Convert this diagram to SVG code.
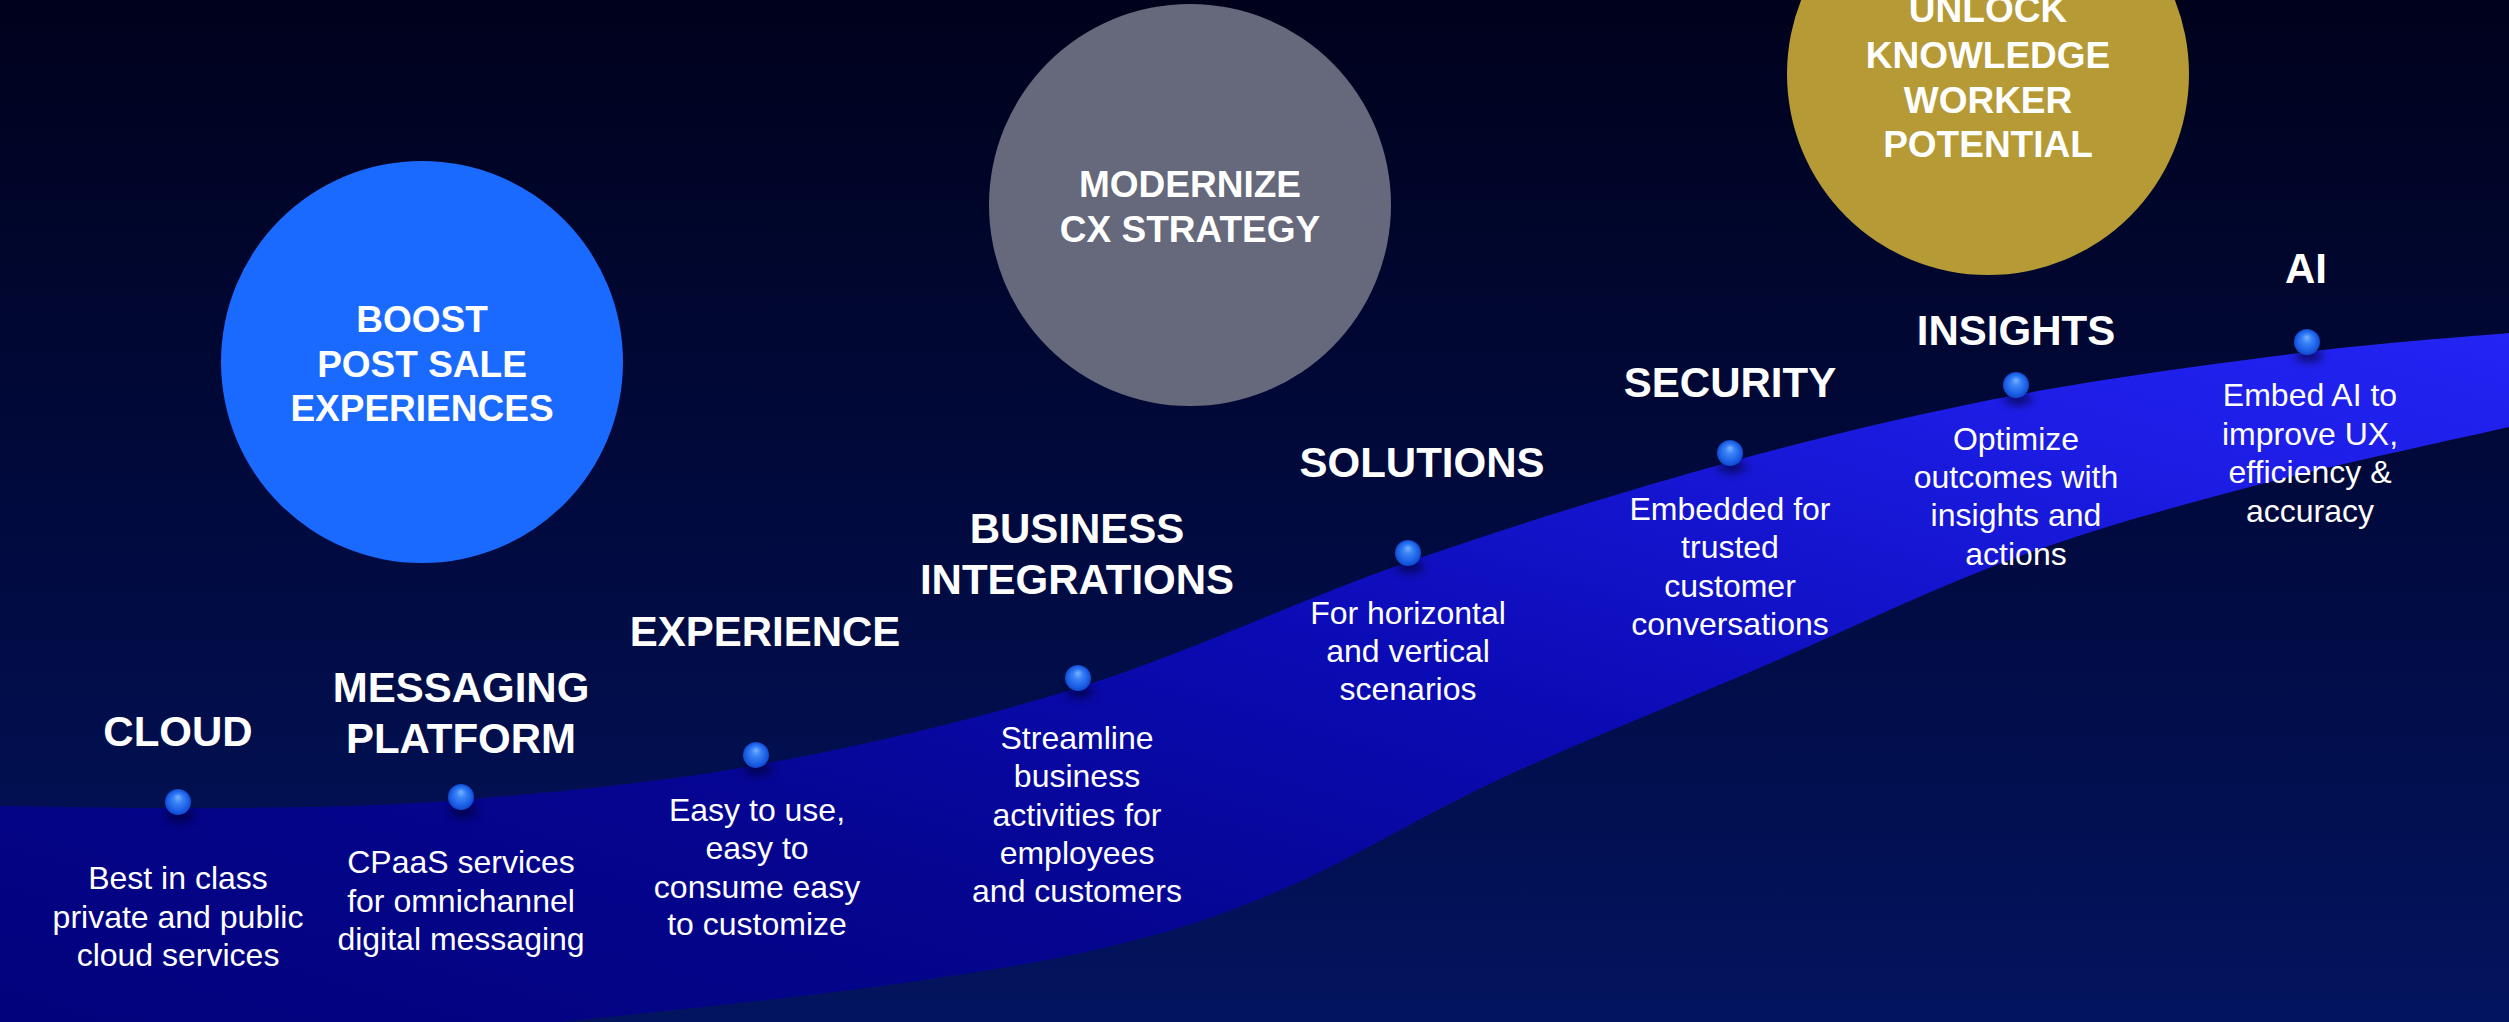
<svg xmlns="http://www.w3.org/2000/svg" width="2509" height="1022" viewBox="0 0 2509 1022">
<defs>
<linearGradient id="bg" x1="0" y1="0" x2="0" y2="1">
<stop offset="0" stop-color="#00021c"/>
<stop offset="0.5" stop-color="#010a3e"/>
<stop offset="1" stop-color="#03145f"/>
</linearGradient>
<linearGradient id="band" x1="0" y1="1" x2="1" y2="0">
<stop offset="0" stop-color="#02027a"/>
<stop offset="0.3" stop-color="#05058f"/>
<stop offset="0.55" stop-color="#0b0bb5"/>
<stop offset="0.85" stop-color="#1d1de6"/>
<stop offset="1" stop-color="#2424f4"/>
</linearGradient>
<radialGradient id="ball" cx="0.5" cy="0.5" r="0.5" fx="0.5" fy="0.3">
<stop offset="0" stop-color="#7ab4ff"/>
<stop offset="0.35" stop-color="#3a84f6"/>
<stop offset="0.8" stop-color="#1a5ee6"/>
<stop offset="1" stop-color="#1248c8"/>
</radialGradient>
<filter id="blur" x="-1" y="-1" width="3" height="3"><feGaussianBlur stdDeviation="4"/></filter>
<g id="dot">
<ellipse cx="2" cy="14" rx="14" ry="6" fill="#000020" opacity="0.6" filter="url(#blur)"/>
<circle cx="0" cy="0" r="13" fill="url(#ball)"/>
</g>
</defs>
<style>
.t{font-family:"Liberation Sans",Arial,sans-serif;font-weight:bold;font-size:42px;fill:#ffffff;text-anchor:middle}
.d{font-family:"Liberation Sans",Arial,sans-serif;font-size:32px;fill:#ffffff;text-anchor:middle}
.c{font-family:"Liberation Sans",Arial,sans-serif;font-weight:bold;font-size:37px;fill:#ffffff;text-anchor:middle}
</style>
<rect x="0" y="0" width="2509" height="1022" fill="url(#bg)"/>
<path id="wave" fill="url(#band)" d="M-10,806 L0,806 C38,806.3 153.3,809 230,808 C306.7,807 372.2,807.2 460,800 C547.8,792.8 654.2,783.7 757,765 C859.8,746.3 968.5,721.8 1077,688 C1185.5,654.2 1299.2,599.7 1408,562 C1516.8,524.3 1628.7,489.8 1730,462 C1831.3,434.2 1919.8,413.3 2016,395 C2112.2,376.7 2224.8,362.3 2307,352 C2389.2,341.7 2475.3,336.2 2509,333 L2520,332 L2520,425 L2509,427 C2465.8,437 2332.3,465.2 2250,487 C2167.7,508.8 2097.2,527.7 2015,558 C1932.8,588.3 1842.8,632.2 1757,669 C1671.2,705.8 1577.8,742.8 1500,779 C1422.2,815.2 1353.3,858.5 1290,886 C1226.7,913.5 1185.7,927.7 1120,944 C1054.3,960.3 989.3,971 896,984 C802.7,997 659.3,1011.8 560,1022 C460.7,1032.2 343.3,1041.2 300,1045 L-10,1060 Z"/>
<g id="goal-boost">
<circle cx="422" cy="362" r="201" fill="#1b6aff"/>
<text class="c" x="422" y="332">BOOST</text>
<text class="c" x="422" y="377">POST SALE</text>
<text class="c" x="422" y="421">EXPERIENCES</text>
</g>
<g id="goal-modernize">
<circle cx="1190" cy="205" r="201" fill="#66687b"/>
<text class="c" x="1190" y="197">MODERNIZE</text>
<text class="c" x="1190" y="242">CX STRATEGY</text>
</g>
<g id="goal-unlock">
<circle cx="1988" cy="74" r="201" fill="#b59a35"/>
<text class="c" x="1988" y="22">UNLOCK</text>
<text class="c" x="1988" y="68">KNOWLEDGE</text>
<text class="c" x="1988" y="113">WORKER</text>
<text class="c" x="1988" y="157">POTENTIAL</text>
</g>
<g id="connectors"></g>
<g id="cloud">
<use href="#dot" x="178" y="802"/>
<text class="t" x="178" y="746">CLOUD</text>
<text class="d" x="178" y="889">Best in class</text>
<text class="d" x="178" y="928">private and public</text>
<text class="d" x="178" y="966">cloud services</text>
</g>
<g id="messaging">
<use href="#dot" x="461" y="797"/>
<text class="t" x="461" y="702">MESSAGING</text>
<text class="t" x="461" y="753">PLATFORM</text>
<text class="d" x="461" y="873">CPaaS services</text>
<text class="d" x="461" y="912">for omnichannel</text>
<text class="d" x="461" y="950">digital messaging</text>
</g>
<g id="experience">
<use href="#dot" x="756" y="755"/>
<text class="t" x="765" y="646">EXPERIENCE</text>
<text class="d" x="757" y="821">Easy to use,</text>
<text class="d" x="757" y="859">easy to</text>
<text class="d" x="757" y="898">consume easy</text>
<text class="d" x="757" y="935">to customize</text>
</g>
<g id="business">
<use href="#dot" x="1078" y="678"/>
<text class="t" x="1077" y="543">BUSINESS</text>
<text class="t" x="1077" y="594">INTEGRATIONS</text>
<text class="d" x="1077" y="749">Streamline</text>
<text class="d" x="1077" y="787">business</text>
<text class="d" x="1077" y="826">activities for</text>
<text class="d" x="1077" y="864">employees</text>
<text class="d" x="1077" y="902">and customers</text>
</g>
<g id="solutions">
<use href="#dot" x="1408" y="553"/>
<text class="t" x="1422" y="477">SOLUTIONS</text>
<text class="d" x="1408" y="624">For horizontal</text>
<text class="d" x="1408" y="662">and vertical</text>
<text class="d" x="1408" y="700">scenarios</text>
</g>
<g id="security">
<use href="#dot" x="1730" y="453"/>
<text class="t" x="1730" y="397">SECURITY</text>
<text class="d" x="1730" y="520">Embedded for</text>
<text class="d" x="1730" y="558">trusted</text>
<text class="d" x="1730" y="597">customer</text>
<text class="d" x="1730" y="635">conversations</text>
</g>
<g id="insights">
<use href="#dot" x="2016" y="385"/>
<text class="t" x="2016" y="345">INSIGHTS</text>
<text class="d" x="2016" y="450">Optimize</text>
<text class="d" x="2016" y="488">outcomes with</text>
<text class="d" x="2016" y="526">insights and</text>
<text class="d" x="2016" y="565">actions</text>
</g>
<g id="ai">
<use href="#dot" x="2307" y="342"/>
<text class="t" x="2306" y="283">AI</text>
<text class="d" x="2310" y="406">Embed AI to</text>
<text class="d" x="2310" y="445">improve UX,</text>
<text class="d" x="2310" y="483">efficiency &amp;</text>
<text class="d" x="2310" y="522">accuracy</text>
</g>
</svg>
